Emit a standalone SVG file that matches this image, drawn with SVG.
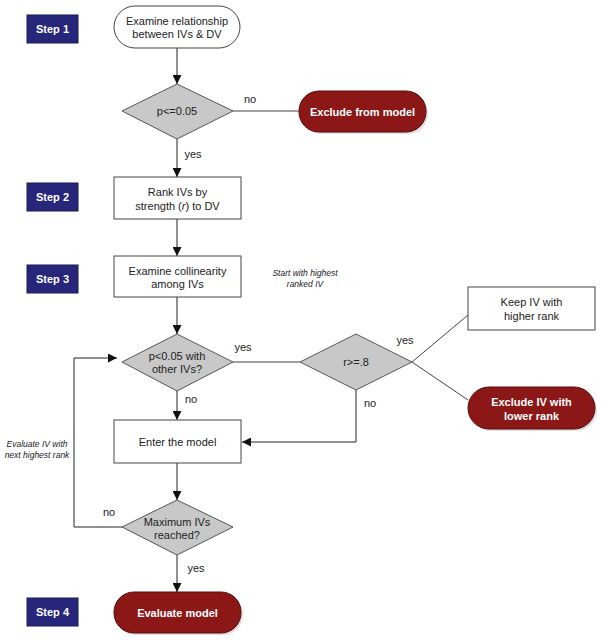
<svg xmlns="http://www.w3.org/2000/svg" width="601" height="640" viewBox="0 0 601 640">
<style>
text{font-family:"Liberation Sans",Arial,sans-serif;font-size:11px;fill:#222;text-anchor:middle}
.step rect{fill:#26267a;stroke:#1a1a55;stroke-width:1}
.step text{fill:#fff;font-weight:bold;font-size:11px}
.box{fill:#fff;stroke:#444;stroke-width:1}
.pill{fill:#8c1717;stroke:#5a0d0d;stroke-width:1}
.pilltxt{fill:#fff;font-weight:bold}
.dia{fill:#c8c8c8;stroke:#555;stroke-width:1}
.ln{fill:none;stroke:#444;stroke-width:1}
.arr{fill:none;stroke:#222;stroke-width:1;marker-end:url(#ah)}
.it{font-style:italic;font-size:8.5px}
.shadow{fill:#000;opacity:0.12}
</style>
<defs>
<marker id="ah" viewBox="0 0 10 10" refX="10" refY="5" markerWidth="9" markerHeight="9" markerUnits="userSpaceOnUse" orient="auto">
<path d="M0,0 L10,5 L0,10 z" fill="#111"/>
</marker>
</defs>

<g id="connectors">
<line class="arr" x1="177" y1="48" x2="177" y2="84"/>
<line class="ln" x1="233" y1="111" x2="299" y2="111"/>
<line class="arr" x1="177" y1="139" x2="177" y2="177"/>
<line class="arr" x1="177" y1="219" x2="177" y2="256"/>
<line class="arr" x1="177" y1="297" x2="177" y2="334"/>
<line class="ln" x1="233" y1="362" x2="300" y2="362"/>
<line class="ln" x1="412" y1="362" x2="468" y2="315"/>
<line class="ln" x1="412" y1="362" x2="468" y2="400"/>
<polyline class="arr" points="356,390 356,442 242,442"/>
<line class="arr" x1="177" y1="391" x2="177" y2="420"/>
<line class="arr" x1="177" y1="463" x2="177" y2="500"/>
<polyline class="arr" points="122,527 74,527 74,358 117,358"/>
<line class="arr" x1="177" y1="555" x2="177" y2="592"/>
<text x="250" y="103">no</text>
<text x="193" y="158">yes</text>
<text x="243" y="351">yes</text>
<text x="405" y="344">yes</text>
<text x="370" y="407">no</text>
<text x="191" y="403">no</text>
<text x="109" y="516">no</text>
<text x="196" y="572">yes</text>
<text class="it" x="305" y="276">Start with highest</text>
<text class="it" x="305" y="287">ranked IV</text>
<text class="it" x="37" y="447">Evaluate IV with</text>
<text class="it" x="37" y="458">next highest rank</text>
</g>

<g id="step1" class="step"><rect x="27" y="15" width="51" height="28"/><text x="52.5" y="33">Step 1</text></g>
<g id="step2" class="step"><rect x="27" y="183" width="51" height="28"/><text x="52.5" y="201">Step 2</text></g>
<g id="step3" class="step"><rect x="27" y="265" width="51" height="28"/><text x="52.5" y="283">Step 3</text></g>
<g id="step4" class="step"><rect x="27" y="598" width="51" height="28"/><text x="52.5" y="616">Step 4</text></g>

<g id="examine-rel">
<rect class="box" x="114" y="6" width="126" height="42" rx="21"/>
<text x="177" y="25">Examine relationship</text>
<text x="177" y="38">between IVs &amp; DV</text>
</g>
<g id="d-p005">
<polygon class="dia" points="177,84 233,111 177,139 122,111"/>
<text x="177" y="115">p&lt;=0.05</text>
</g>
<g id="exclude-model">
<rect class="shadow" x="301" y="93" width="127" height="41" rx="20"/>
<rect class="pill" x="299" y="91" width="127" height="41" rx="20"/>
<text class="pilltxt" x="362.5" y="115.5">Exclude from model</text>
</g>
<g id="rank">
<rect class="box" x="114" y="177" width="127" height="42"/>
<text x="177.5" y="196">Rank IVs by</text>
<text x="177.5" y="210">strength (<tspan font-style="italic">r</tspan>) to DV</text>
</g>
<g id="collinearity">
<rect class="box" x="114" y="256" width="127" height="41"/>
<text x="177.5" y="275">Examine collinearity</text>
<text x="177.5" y="288">among IVs</text>
</g>
<g id="d-other">
<polygon class="dia" points="177,334 233,362 177,391 122,362"/>
<text x="177" y="360">p&lt;0.05 with</text>
<text x="177" y="373">other IVs?</text>
</g>
<g id="d-r">
<polygon class="dia" points="356,334 412,362 356,390 300,362"/>
<text x="356" y="366">r&gt;=.8</text>
</g>
<g id="keep">
<rect class="box" x="468" y="287" width="127" height="43"/>
<text x="531.5" y="306">Keep IV with</text>
<text x="531.5" y="320">higher rank</text>
</g>
<g id="exclude-iv">
<rect class="shadow" x="470" y="389" width="127" height="42" rx="21"/>
<rect class="pill" x="468" y="387" width="127" height="42" rx="21"/>
<text class="pilltxt" x="531.5" y="406">Exclude IV with</text>
<text class="pilltxt" x="531.5" y="420">lower rank</text>
</g>
<g id="enter">
<rect class="box" x="114" y="420" width="127" height="43"/>
<text x="177.5" y="446">Enter the model</text>
</g>
<g id="d-max">
<polygon class="dia" points="177,500 233,527 177,555 122,527"/>
<text x="177" y="526">Maximum IVs</text>
<text x="177" y="539">reached?</text>
</g>
<g id="evaluate">
<rect class="shadow" x="116" y="594" width="127" height="41" rx="20"/>
<rect class="pill" x="114" y="592" width="127" height="41" rx="20"/>
<text class="pilltxt" x="177.5" y="616.5">Evaluate model</text>
</g>
</svg>
